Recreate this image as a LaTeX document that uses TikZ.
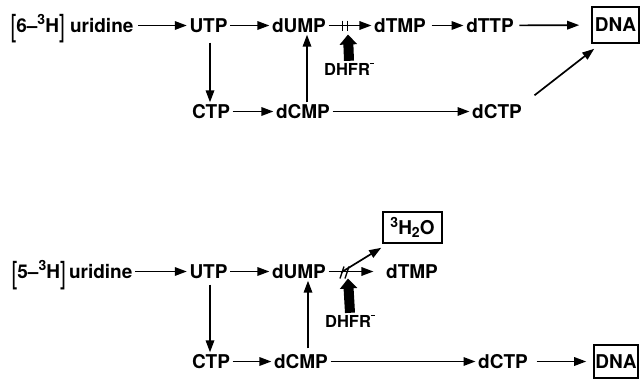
\documentclass[tikz,border=0pt]{standalone}
\usepackage{fontspec}
\setmainfont{TeX Gyre Heros}
\usepackage{graphicx}
\usetikzlibrary{arrows.meta}
\newcommand\sbL{\raisebox{-5pt}{\scalebox{1.1}[1.6]{\mdseries[}}}
\newcommand\sbR{\raisebox{-5pt}{\scalebox{1.1}[1.6]{\mdseries]}}}
\newcommand\supr[1]{\raisebox{7.5pt}{\fontsize{14}{14}\selectfont #1}}
\newcommand\subr[1]{\raisebox{-3pt}{\fontsize{14}{14}\selectfont #1}}
\newcommand\minussup{\raisebox{11pt}{\rule{4pt}{1.4pt}}}
\tikzset{
  lbl/.style={anchor=base, font=\fontsize{19}{19}\selectfont\bfseries,
    inner xsep=2.5pt, inner ysep=2.5pt, text height=13pt, text depth=0pt},
  enz/.style={lbl, font=\fontsize{16.5}{16.5}\selectfont\bfseries, text height=11.5pt},
  boxnode/.style={draw, line width=1.6pt, font=\fontsize{19}{19}\selectfont\bfseries, inner sep=0pt},
  arr/.style={line width=1.7pt, -{Triangle[length=12pt,width=8.5pt]}},
  blockarr/.style={line width=10pt, -{Triangle[length=10pt,width=17pt]}},
  hashmark/.style={line width=1.4pt},
}
\begin{document}
\begin{tikzpicture}[x=1pt,y=-1pt]
\useasboundingbox (0,0) rectangle (642,380);
% ---------------- top pathway ----------------
\node[lbl] (uriA) at (72,32) {\sbL 6–\supr{3}H\sbR\ uridine};
\node[lbl] (utpA) at (208.5,32) {UTP};
\node[lbl] (dumpA) at (299,32) {dUMP};
\node[lbl] (dtmpA) at (400,32) {dTMP};
\node[lbl] (dttpA) at (490,32) {dTTP};
\node[boxnode, minimum width=47pt, minimum height=36pt] (dnaA) at (615.5,25) {DNA};
\node[lbl] (ctpA) at (211,118) {CTP};
\node[lbl] (dcmpA) at (303,118) {dCMP};
\node[lbl] (dctpA) at (497,118) {dCTP};
\node[enz] (dhfrA) at (349,75) {DHFR\minussup};
\coordinate (hashA) at (345,25.5);

\draw[arr] (uriA.east) ++(2pt,0) -- (utpA.west);
\draw[arr] (utpA) -- (dumpA);
\draw[arr] (dumpA) -- (dtmpA);
\draw[hashmark] ([xshift=-2.5pt,yshift=5pt]hashA) -- ([xshift=-2.5pt,yshift=-5pt]hashA);
\draw[hashmark] ([xshift=2.5pt,yshift=5pt]hashA) -- ([xshift=2.5pt,yshift=-5pt]hashA);
\draw[arr, shorten <=3pt] (dtmpA) -- (dttpA);
\draw[arr, shorten <=3pt, shorten >=12pt] (dttpA) -- (dnaA);
\draw[arr, shorten <=8pt] ([xshift=1.5pt]utpA.south) -- ([xshift=-1pt]ctpA.north);
\draw[arr] ([xshift=4pt]dcmpA.north) -- ([xshift=8pt]dumpA.south);
\draw[arr] (ctpA) -- (dcmpA);
\draw[arr] (dcmpA) -- (dctpA);
\draw[arr] ([xshift=10pt,yshift=7pt]dctpA.north east) -- ([xshift=3pt,yshift=-5pt]dnaA.south west);
\draw[blockarr] (dhfrA.north) -- ([xshift=3pt,yshift=-9pt]hashA);

% ---------------- bottom pathway ----------------
\node[lbl] (uriB) at (72,278) {\sbL 5–\supr{3}H\sbR\,uridine};
\node[lbl] (utpB) at (208.5,278) {UTP};
\node[lbl] (dumpB) at (299,278) {dUMP};
\node[lbl] (dtmpB) at (412,278) {dTMP};
\node[boxnode, minimum width=59pt, minimum height=31pt] (h2oB) at (412.5,227.5) {\supr{3}H\subr{2}O};
\node[lbl] (ctpB) at (211,368) {CTP};
\node[lbl] (dcmpB) at (301,368) {dCMP};
\node[lbl] (dctpB) at (503,368) {dCTP};
\node[boxnode, minimum width=44pt, minimum height=33pt] (dnaB) at (616,361.5) {DNA};
\node[enz] (dhfrB) at (350,327) {DHFR\minussup};
\coordinate (hashB) at (345,272.5);

\draw[arr] (uriB) -- (utpB);
\draw[arr] (utpB) -- (dumpB);
\draw[arr, shorten >=10pt] (dumpB) -- (dtmpB);
\draw[hashmark] ([xshift=-1pt,yshift=6pt]hashB) -- ([xshift=-5pt,yshift=-6pt]hashB);
\draw[hashmark] ([xshift=4pt,yshift=6pt]hashB) -- ([xshift=0pt,yshift=-6pt]hashB);
\draw[arr] ([xshift=-4pt]hashB) -- ([xshift=-1pt,yshift=-4pt]h2oB.south west);
\draw[arr, shorten <=4pt] ([xshift=1.5pt]utpB.south) -- ([xshift=-1pt]ctpB.north);
\draw[arr, shorten <=4pt] ([xshift=7pt]dcmpB.north) -- ([xshift=9pt]dumpB.south);
\draw[arr] (ctpB) -- (dcmpB);
\draw[arr] (dcmpB) -- (dctpB);
\draw[arr, shorten <=6pt, shorten >=7pt] (dctpB) -- (dnaB);
\draw[blockarr] (dhfrB.north) -- ([xshift=3pt,yshift=-6pt]hashB);
\end{tikzpicture}
\end{document}
